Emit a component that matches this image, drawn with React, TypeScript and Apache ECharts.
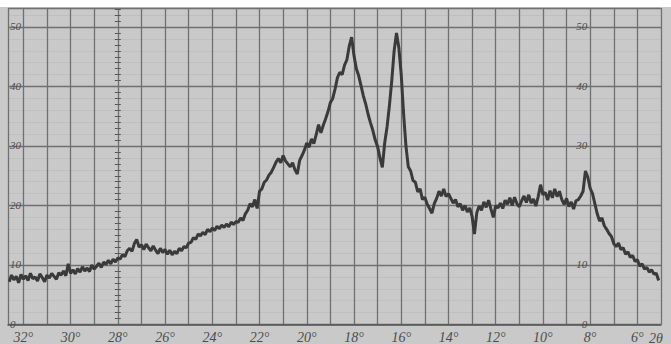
import React, { useEffect, useRef } from "react";
import * as echarts from "echarts";

const twoTheta = [
  32.6, 32.5, 32.4, 32.3, 32.2, 32.1, 32.0,
  31.9, 31.8, 31.7, 31.6, 31.5, 31.4, 31.3, 31.2, 31.1, 31.0,
  30.9, 30.8, 30.7, 30.6, 30.5, 30.4, 30.3, 30.2, 30.1, 30.0,
  29.9, 29.8, 29.7, 29.6, 29.5, 29.4, 29.3, 29.2, 29.1, 29.0,
  28.9, 28.8, 28.7, 28.6, 28.5, 28.4, 28.3, 28.2, 28.1, 28.0,
  27.9, 27.8, 27.7, 27.6, 27.5, 27.4, 27.3, 27.2, 27.1, 27.0,
  26.9, 26.8, 26.7, 26.6, 26.5, 26.4, 26.3, 26.2, 26.1, 26.0,
  25.9, 25.8, 25.7, 25.6, 25.5, 25.4, 25.3, 25.2, 25.1, 25.0,
  24.9, 24.8, 24.7, 24.6, 24.5, 24.4, 24.3, 24.2, 24.1, 24.0,
  23.9, 23.8, 23.7, 23.6, 23.5, 23.4, 23.3, 23.2, 23.1, 23.0,
  22.9, 22.8, 22.7, 22.6, 22.5, 22.4, 22.3, 22.2, 22.1, 22.0,
  21.9, 21.8, 21.7, 21.6, 21.5, 21.4, 21.3, 21.2, 21.1, 21.0,
  20.9, 20.8, 20.7, 20.6, 20.5, 20.4, 20.3, 20.2, 20.1, 20.0,
  19.9, 19.8, 19.7, 19.6, 19.5, 19.4, 19.3, 19.2, 19.1, 19.0,
  18.9, 18.8, 18.7, 18.6, 18.5, 18.4, 18.3, 18.2, 18.1, 18.0,
  17.9, 17.8, 17.7, 17.6, 17.5, 17.4, 17.3, 17.2, 17.1, 17.0,
  16.9, 16.8, 16.7, 16.6, 16.5, 16.4, 16.3, 16.2, 16.1, 16.0,
  15.9, 15.8, 15.7, 15.6, 15.5, 15.4, 15.3, 15.2, 15.1, 15.0,
  14.9, 14.8, 14.7, 14.6, 14.5, 14.4, 14.3, 14.2, 14.1, 14.0,
  13.9, 13.8, 13.7, 13.6, 13.5, 13.4, 13.3, 13.2, 13.1, 13.0,
  12.9, 12.8, 12.7, 12.6, 12.5, 12.4, 12.3, 12.2, 12.1, 12.0,
  11.9, 11.8, 11.7, 11.6, 11.5, 11.4, 11.3, 11.2, 11.1, 11.0,
  10.9, 10.8, 10.7, 10.6, 10.5, 10.4, 10.3, 10.2, 10.1, 10.0,
  9.9, 9.8, 9.7, 9.6, 9.5, 9.4, 9.3, 9.2, 9.1, 9.0,
  8.9, 8.8, 8.7, 8.6, 8.5, 8.4, 8.3, 8.2, 8.1, 8.0,
  7.9, 7.8, 7.7, 7.6, 7.5, 7.4, 7.3, 7.2, 7.1, 7.0,
  6.9, 6.8, 6.7, 6.6, 6.5, 6.4, 6.3, 6.2, 6.1, 6.0,
  5.9, 5.8, 5.7, 5.6, 5.5, 5.4, 5.3, 5.2, 5.1,
];

const intensity = [
  7.2, 8.3, 7.5, 8.1, 7.0, 8.4, 7.6,
  8.2, 7.4, 8.6, 7.7, 8.0, 7.3, 8.5, 7.9, 7.2, 8.3,
  7.8, 8.6, 8.1, 7.6, 8.7, 8.3, 9.0, 8.2, 10.2, 8.6,
  9.2, 8.5, 9.4, 8.8, 9.7, 9.0, 9.5, 8.9, 10.0, 9.3,
  9.8, 10.3, 9.6, 10.5, 10.1, 10.8, 10.2, 11.0, 10.5, 11.2,
  11.0, 11.8, 11.4, 12.4, 12.8, 12.3, 13.6, 14.3, 13.0, 13.4,
  12.6, 13.5, 12.9, 12.4, 13.2, 12.5, 11.9, 12.8, 12.1, 12.6,
  11.8, 12.5, 11.7, 12.3, 11.9, 12.8, 12.4, 13.1, 12.9, 13.7,
  13.8, 14.6, 14.3, 15.2, 14.9, 15.5, 15.1, 16.0, 15.6, 16.2,
  15.8, 16.5, 16.1, 16.7, 16.3, 16.9, 16.4, 17.2, 16.8, 17.3,
  17.2, 17.9, 17.5, 18.6, 19.2, 20.3, 19.8, 21.0, 19.5, 22.4,
  22.8, 23.9, 24.3, 25.1, 25.6, 26.4, 27.3, 27.9, 27.2, 28.4,
  27.5, 27.0, 26.5, 27.2, 26.0, 25.3, 27.6, 28.4, 29.3, 30.5,
  29.8, 31.2, 30.4, 31.9, 33.6, 32.2, 33.5, 34.6, 35.8, 37.3,
  38.0, 39.6, 41.5, 42.4, 42.0, 43.6, 44.5, 46.8, 48.3, 45.2,
  43.0, 41.8, 40.1, 38.4, 37.0, 35.3, 33.9, 32.6, 31.0, 29.9,
  28.0, 26.4, 30.5, 33.2, 36.8, 41.0, 46.0, 49.0, 46.5, 42.0,
  35.5, 30.0, 26.5, 25.8, 24.2, 23.9, 22.3, 22.8, 21.0, 21.4,
  20.2, 19.5, 18.7, 20.3, 21.2, 22.4, 21.6, 22.8, 21.5, 22.0,
  21.2, 20.4, 21.0, 19.8, 20.3, 19.2, 20.0, 18.9, 19.6, 18.2,
  15.2, 18.8, 19.9, 19.2, 20.6, 19.7, 20.9, 19.4, 18.0, 20.0,
  19.6, 20.4, 19.5, 20.9, 20.2, 21.3, 20.0, 21.4, 20.3, 19.8,
  20.8, 21.6, 20.5, 21.8, 20.4, 21.1, 19.9, 21.5, 23.5, 21.8,
  22.2, 20.9, 22.5, 21.3, 22.8, 21.5, 22.4, 21.0, 20.2, 21.2,
  19.8, 20.6, 19.4, 20.8, 21.0, 21.6, 22.4, 25.8, 24.8, 22.9,
  22.0, 20.3, 18.6, 17.4, 17.9, 16.6, 16.0, 15.3, 14.8, 13.6,
  13.1, 13.7, 12.6, 12.9, 11.8, 12.2, 11.3, 11.6, 10.6, 10.9,
  9.8, 10.2, 9.3, 9.6, 8.8, 9.2, 8.5, 8.6, 7.4,
];

const xTickValues = [32, 30, 28, 26, 24, 22, 20, 18, 16, 14, 12, 10, 8, 6];
const yTickLabelsLeft = ["0", "10", "20", "30", "40", "50"];
const yTickLabelsMid = ["0", "10", "", "30", "40", "50"];
const axisUnitLabel = "2θ";

const X_MIN = 5;
const X_MAX = 32.65;
const Y_MAX = 53.2;
const GRID_LEFT = 8;
const GRID_RIGHT = 10;
const W = 671;
const H = 344;
const plotW = W - GRID_LEFT - GRID_RIGHT;
const xToPx = (v: number) => GRID_LEFT + ((X_MAX - v) / (X_MAX - X_MIN)) * plotW;

export default function App() {
  const ref = useRef<HTMLDivElement>(null);
  useEffect(() => {
    document.body.style.margin = "0";
    const chart = echarts.init(ref.current!, null, { renderer: "svg" });
    const labelFont = {
      fontStyle: "italic" as const,
      fontFamily: "Liberation Serif",
      color: "#4d4d4d",
    };
    const pos28 = xToPx(28) - GRID_LEFT;
    const pos8 = W - GRID_RIGHT - xToPx(8);
    const yLabelFmt = (arr: string[]) => (v: number) => {
      const i = Math.round(v / 10);
      return Math.abs(v - i * 10) < 1e-6 && i >= 0 && i < arr.length ? arr[i] : "";
    };
    chart.setOption({
      animation: false,
      backgroundColor: "transparent",
      grid: { left: GRID_LEFT, right: GRID_RIGHT, top: 8, bottom: 19 },
      xAxis: {
        type: "value",
        inverse: true,
        min: X_MIN,
        max: X_MAX,
        interval: 1,
        axisLine: { show: true, onZero: false, lineStyle: { color: "#555", width: 1.5 } },
        axisTick: { show: false },
        splitLine: { show: true, lineStyle: { color: "#707070", width: 1.3 } },
        axisLabel: {
          ...labelFont,
          fontSize: 14,
          lineHeight: 13,
          margin: 6,
          showMinLabel: true,
          showMaxLabel: true,
          formatter: (v: number) =>
            xTickValues.indexOf(Math.round(v)) >= 0 && Math.abs(v - Math.round(v)) < 1e-6
              ? Math.round(v) + "°"
              : "",
        },
      },
      yAxis: [
        {
          type: "value",
          min: 0,
          max: Y_MAX,
          interval: 10,
          position: "left",
          axisLine: { show: false },
          axisTick: { show: false },
          splitLine: { show: true, lineStyle: { color: "#707070", width: 1.3 } },
          minorTick: { show: false, splitNumber: 5 },
          minorSplitLine: { show: true, lineStyle: { color: "#b9b9b9", width: 0.6 } },
          axisLabel: {
            ...labelFont,
            fontSize: 11,
            lineHeight: 10,
            inside: true,
            margin: 2,
            verticalAlign: "bottom",
            padding: [0, 0, -4, 0],
            formatter: yLabelFmt(yTickLabelsLeft),
          },
        },
        {
          type: "value",
          min: 0,
          max: Y_MAX,
          interval: 10,
          position: "right",
          offset: -pos8,
          axisLine: { show: false },
          axisTick: { show: false },
          splitLine: { show: false },
          axisLabel: {
            ...labelFont,
            fontSize: 11,
            lineHeight: 10,
            inside: true,
            margin: 3,
            verticalAlign: "bottom",
            padding: [0, 0, -4, 0],
            formatter: yLabelFmt(yTickLabelsMid),
          },
        },
        {
          type: "value",
          min: 0,
          max: Y_MAX,
          interval: 10,
          position: "left",
          offset: -pos28,
          axisLine: { show: false },
          axisTick: { show: false, inside: false },
          minorTick: { show: true, splitNumber: 10, length: 3, lineStyle: { color: "#555", width: 1 } },
          splitLine: { show: false },
          axisLabel: { show: false },
        },
        {
          type: "value",
          min: 0,
          max: Y_MAX,
          interval: 10,
          position: "left",
          offset: -pos28,
          axisLine: { show: false },
          axisTick: { show: false, inside: true },
          minorTick: { show: true, splitNumber: 10, length: 3, lineStyle: { color: "#555", width: 1 } },
          splitLine: { show: false },
          axisLabel: { show: false },
        },
      ],
      graphic: [
        {
          type: "text",
          x: 649,
          y: 331,
          style: { text: axisUnitLabel, ...labelFont, fill: "#4d4d4d", fontSize: 14 },
        },
      ],
      series: [
        {
          type: "line",
          yAxisIndex: 0,
          data: twoTheta.map((t, i) => [t, intensity[i]]),
          showSymbol: false,
          smooth: false,
          lineStyle: { color: "#3a3a3a", width: 3 },
        },
      ],
    });
    return () => chart.dispose();
  }, []);
  return (
    <div
      ref={ref}
      style={{
        position: "absolute",
        left: 0,
        top: 0,
        width: W,
        height: H,
        background: "linear-gradient(#ffffff 0px, #ffffff 7px, #c9c9c9 7px)",
      }}
    />
  );
}
